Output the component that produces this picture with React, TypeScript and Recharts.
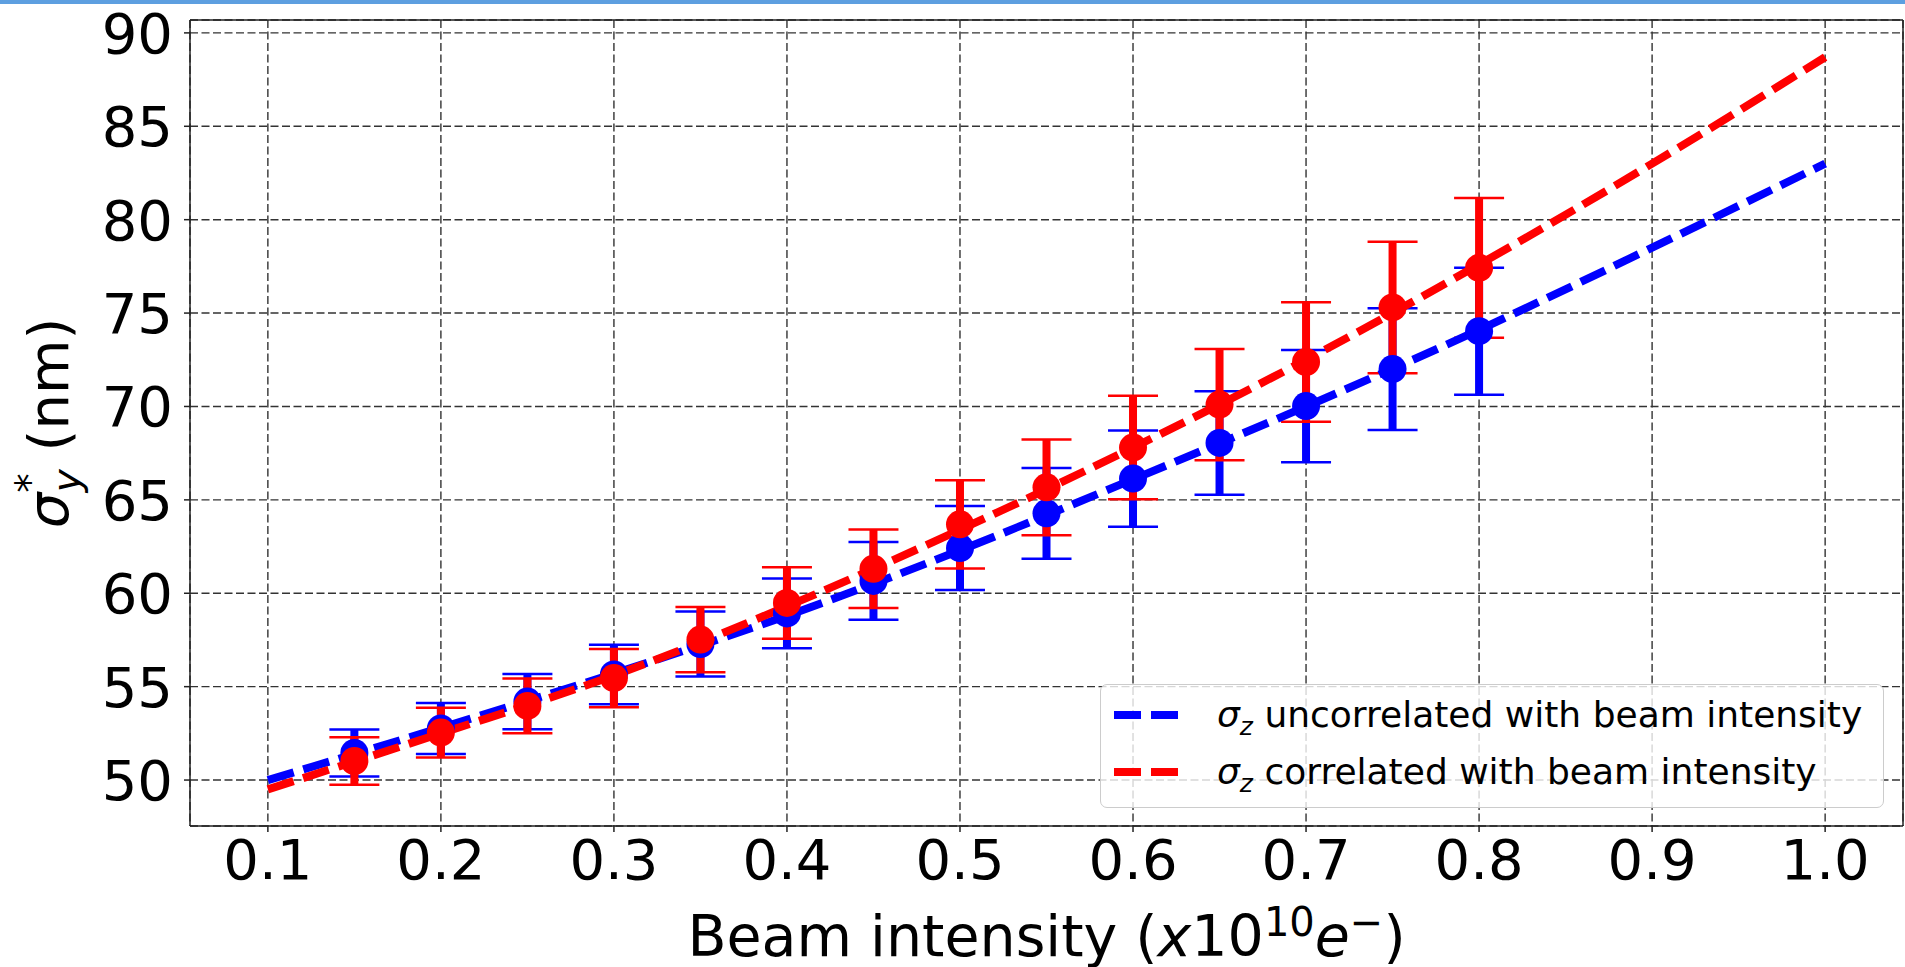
import React from 'react';
import { ComposedChart, Line, Scatter, ErrorBar, XAxis, YAxis, CartesianGrid, Legend } from 'recharts';

// measured beam intensities (x10^10 e-)
const intensity = [0.15, 0.2, 0.25, 0.3, 0.35, 0.4, 0.45, 0.5, 0.55, 0.6, 0.65, 0.7, 0.75, 0.8];

// sigma_z uncorrelated with beam intensity
const blueMean = [51.45, 52.76, 54.2, 55.65, 57.28, 58.92, 60.66, 62.42, 64.28, 66.14, 68.05, 70.02, 72.0, 74.03];
const blueErr = [1.26, 1.37, 1.48, 1.59, 1.74, 1.87, 2.08, 2.25, 2.43, 2.58, 2.77, 3.0, 3.26, 3.4];

// sigma_z correlated with beam intensity
const redMean = [51.02, 52.54, 53.97, 55.46, 57.52, 59.48, 61.31, 63.69, 65.67, 67.8, 70.1, 72.38, 75.3, 77.42];
const redErr = [1.27, 1.33, 1.46, 1.56, 1.75, 1.91, 2.1, 2.36, 2.56, 2.77, 2.98, 3.2, 3.52, 3.74];

// fitted curves
const fitX = [0.1, 0.2, 0.3, 0.4, 0.5, 0.6, 0.7, 0.8, 0.9, 1.0];
const blueFit = [50.0, 52.8, 55.7, 58.8, 62.3, 66.1, 70.0, 74.1, 78.5, 83.0];
const redFit = [49.5, 52.5, 55.6, 59.3, 63.4, 67.8, 72.5, 77.6, 83.0, 88.7];

const xTicks = [0.1, 0.2, 0.3, 0.4, 0.5, 0.6, 0.7, 0.8, 0.9, 1.0];
const yTicks = [50, 55, 60, 65, 70, 75, 80, 85, 90];
const legendNames = ['uncorrelated with beam intensity', 'correlated with beam intensity'];

const BLUE = '#0000ff';
const RED = '#ff0000';
const FONT = '"DejaVu Sans", Verdana, sans-serif';
const DASH = '27 10';

const blueData = intensity.map((x, i) => ({ x, y: blueMean[i], err: blueErr[i] }));
const redData = intensity.map((x, i) => ({ x, y: redMean[i], err: redErr[i] }));
const blueLine = fitX.map((x, i) => ({ x, y: blueFit[i] }));
const redLine = fitX.map((x, i) => ({ x, y: redFit[i] }));

const XTick = (props: any) => {
  const { x, y, payload } = props;
  return (
    <text x={x} y={y + 45} textAnchor="middle" fontSize={56} fontFamily={FONT} fill="#000">
      {payload.value.toFixed(1)}
    </text>
  );
};

const YTick = (props: any) => {
  const { x, y, payload } = props;
  return (
    <text x={x} y={y + 20} textAnchor="end" fontSize={56} fontFamily={FONT} fill="#000">
      {payload.value}
    </text>
  );
};

const XLabel = (props: any) => {
  const vb = props.viewBox;
  const cx = vb.x + vb.width / 2;
  return (
    <text x={cx} y={vb.y + 130} textAnchor="middle" fontSize={57} fontFamily={FONT} fill="#000">
      Beam intensity (<tspan fontStyle="italic">x</tspan>10
      <tspan fontSize={40} dy={-20}>10</tspan>
      <tspan fontStyle="italic" dy={20}>e</tspan>
      <tspan fontSize={40} dy={-20}>−</tspan>
      <tspan dy={20}>)</tspan>
    </text>
  );
};

const YLabel = (props: any) => {
  const vb = props.viewBox;
  const cx = 68;
  const cy = vb.y + vb.height / 2;
  return (
    <text x={cx} y={cy} transform={`rotate(-90, ${cx}, ${cy})`} textAnchor="middle" fontSize={56} fontFamily={FONT} fill="#000">
      <tspan fontStyle="italic">σ</tspan>
      <tspan fontSize={39} dy={-25}>*</tspan>
      <tspan fontSize={39} fontStyle="italic" dx={-19} dy={37}>y</tspan>
      <tspan dy={-12}> (nm)</tspan>
    </text>
  );
};

const renderLegend = () => {
  const colors = [BLUE, RED];
  return (
    <div style={{ width: 784, height: 124, boxSizing: 'border-box', border: '1.5px solid #cccccc', borderRadius: 7, background: 'rgba(255,255,255,0.8)' }}>
      <svg width={781} height={121} style={{ display: 'block' }}>
        {legendNames.map((name, i) => (
          <g key={name}>
            <line x1={13} x2={87} y1={30 + i * 57} y2={30 + i * 57} stroke={colors[i]} strokeWidth={8} strokeDasharray={DASH} />
            <text x={116} y={42 + i * 57} fontSize={36} fontFamily={FONT} fill="#000">
              <tspan fontStyle="italic">σ</tspan>
              <tspan fontStyle="italic" fontSize={25} dy={8}>z</tspan>
              <tspan dy={-8}> {name}</tspan>
            </text>
          </g>
        ))}
      </svg>
    </div>
  );
};

const Dot = (color: string) => (p: any) => <circle cx={p.cx} cy={p.cy} r={14} fill={color} />;

export default function App() {
  return (
    <div style={{ position: 'absolute', left: 0, top: 0, width: 1905, height: 967, background: '#fff' }}>
      <div style={{ position: 'absolute', left: 0, top: 0, width: 1905, height: 4, background: '#5d9fe0' }} />
      <ComposedChart width={1905} height={967} margin={{ top: 19, right: 0, bottom: 0, left: 0 }}>
        <CartesianGrid stroke="#333" strokeWidth={1.4} strokeDasharray="8 3.5" />
        <XAxis
          dataKey="x"
          type="number"
          domain={[0.055, 1.045]}
          ticks={xTicks}
          allowDataOverflow
          height={141}
          tick={<XTick />}
          tickSize={6}
          tickLine={{ stroke: '#222', strokeWidth: 1.5 }}
          axisLine={{ stroke: '#222', strokeWidth: 1.5 }}
          label={<XLabel />}
        />
        <XAxis xAxisId="top" orientation="top" type="number" domain={[0.055, 1.045]} height={1} tick={false} tickLine={false} axisLine={{ stroke: '#222', strokeWidth: 1.5 }} />
        <YAxis
          dataKey="y"
          type="number"
          domain={[47.54, 90.69]}
          ticks={yTicks}
          allowDataOverflow
          width={190}
          tick={<YTick />}
          tickSize={6}
          tickMargin={11}
          tickLine={{ stroke: '#222', strokeWidth: 1.5 }}
          axisLine={{ stroke: '#222', strokeWidth: 1.5 }}
          label={<YLabel />}
        />
        <YAxis yAxisId="right" orientation="right" type="number" domain={[47.54, 90.69]} width={2} tick={false} tickLine={false} axisLine={{ stroke: '#222', strokeWidth: 1.5 }} />
        <Scatter data={blueData} dataKey="y" shape={Dot(BLUE)} isAnimationActive={false}>
          <ErrorBar dataKey="err" direction="y" width={25} stroke={BLUE} strokeWidth={2.5} isAnimationActive={false} />
          <ErrorBar dataKey="err" direction="y" width={0} stroke={BLUE} strokeWidth={8} isAnimationActive={false} />
        </Scatter>
        <Scatter data={redData} dataKey="y" shape={Dot(RED)} isAnimationActive={false}>
          <ErrorBar dataKey="err" direction="y" width={25} stroke={RED} strokeWidth={2.5} isAnimationActive={false} />
          <ErrorBar dataKey="err" direction="y" width={0} stroke={RED} strokeWidth={8} isAnimationActive={false} />
        </Scatter>
        <Line data={blueLine} dataKey="y" type="monotone" stroke={BLUE} strokeWidth={8} strokeDasharray={DASH} dot={false} activeDot={false} isAnimationActive={false} />
        <Line data={redLine} dataKey="y" type="monotone" stroke={RED} strokeWidth={8} strokeDasharray={DASH} dot={false} activeDot={false} isAnimationActive={false} />
        <Legend
          layout="vertical"
          align="center"
          verticalAlign="middle"
          content={renderLegend}
          wrapperStyle={{ position: 'absolute', left: 1100, top: 684, width: 784, height: 124 }}
        />
      </ComposedChart>
    </div>
  );
}
